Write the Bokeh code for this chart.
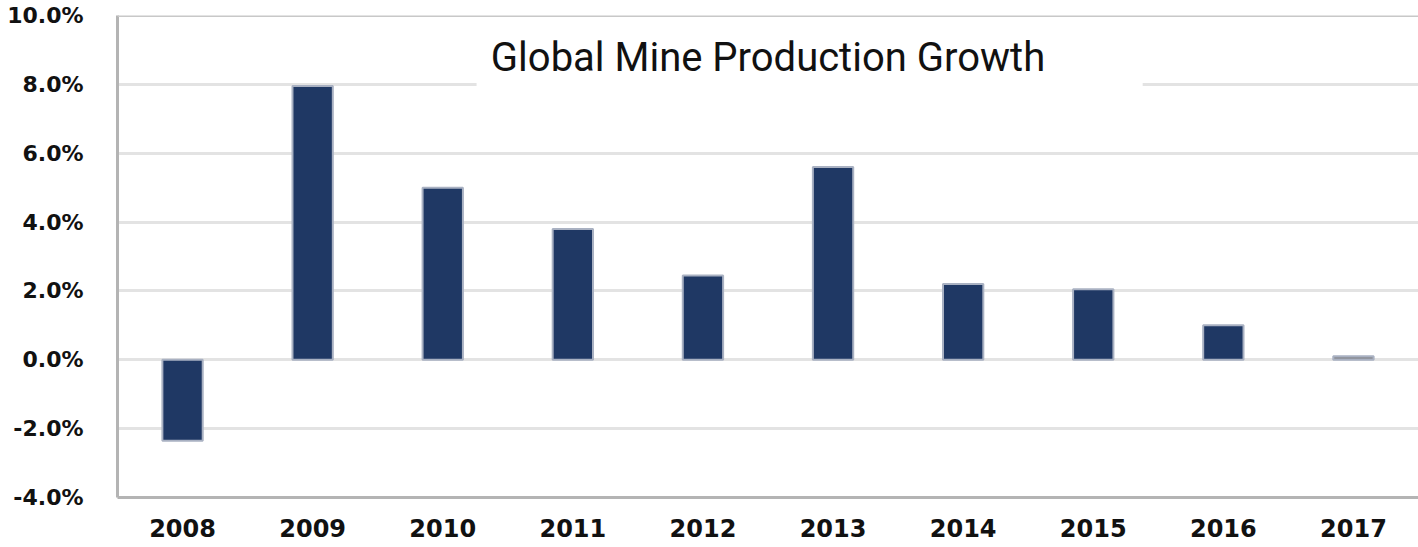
from bokeh.plotting import figure
from bokeh.models import FactorRange, Span, BoxAnnotation, Label, FixedTicker, CustomJSTickFormatter
from bokeh.embed import file_html
from bokeh.resources import INLINE

years = ["2008", "2009", "2010", "2011", "2012", "2013", "2014", "2015", "2016", "2017"]
growth = [-2.35, 7.95, 5.0, 3.8, 2.45, 5.6, 2.2, 2.05, 1.0, 0.1]
bar_colors = ["#1f3864"] * 9 + ["#8a8d93"]
y_ticks = [-4, -2, 0, 2, 4, 6, 8, 10]
title_text = "Global Mine Production Growth"

p = figure(x_range=FactorRange(*years, range_padding=0), y_range=(-4, 10),
           width=1418, height=547, output_backend="svg", toolbar_location=None,
           min_border_left=117, min_border_right=0, min_border_top=15, min_border_bottom=50)
p.outline_line_color = None
p.background_fill_color = "white"
p.border_fill_color = "white"

p.vbar(x=years, top=growth, bottom=0, width=0.31, fill_color=bar_colors,
       line_color="#a9b1c2", line_width=2)

p.xgrid.grid_line_color = None
p.ygrid.grid_line_color = "#e3e3e3"
p.ygrid.grid_line_width = 3
p.yaxis.ticker = FixedTicker(ticks=y_ticks)
p.yaxis.formatter = CustomJSTickFormatter(code="return tick.toFixed(1) + '%';")

for ax in (p.xaxis[0], p.yaxis[0]):
    ax.axis_line_color = "#b4b4b4"
    ax.axis_line_width = 3
    ax.major_tick_line_color = None
    ax.minor_tick_line_color = None
    ax.major_label_text_font = "DejaVu Sans"
    ax.major_label_text_font_style = "bold"
    ax.major_label_text_color = "#111111"

p.yaxis.major_label_text_font_size = "22px"
p.yaxis.major_label_standoff = 28
p.xaxis.major_label_text_font_size = "24px"
p.xaxis.major_label_standoff = 15

p.add_layout(Span(location=10, dimension="width", line_color="#c8c8c8", line_width=3))

p.add_layout(BoxAnnotation(left=2.76, right=7.88, bottom=7.85, top=9.6,
                           fill_color="white", fill_alpha=1.0, line_color=None, level="annotation"))
p.add_layout(Label(x=5.0, y=8.78, text=title_text, text_align="center", text_baseline="middle",
                   text_font="Roboto", text_font_size="40px", text_color="#111111",
                   level="overlay"))

open("out.html", "w").write(file_html(p, INLINE))
